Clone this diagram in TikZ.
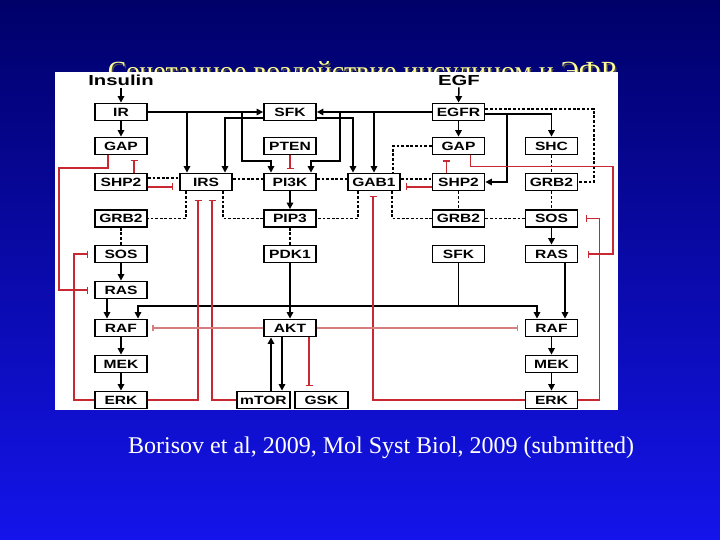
\documentclass[tikz,border=0pt]{standalone}
\usepackage{fontspec}
\setmainfont{Liberation Serif}
\newfontfamily\labfont[FakeStretch=1.3]{Liberation Sans}
\newfontfamily\hdfont[FakeStretch=1.4]{Liberation Sans}
\usetikzlibrary{arrows.meta}
\definecolor{inhred}{RGB}{200,40,50}
\definecolor{aktred}{RGB}{215,125,125}
\definecolor{titley}{RGB}{255,255,150}
\definecolor{bgtop}{RGB}{0,0,105}
\definecolor{bgbot}{RGB}{20,20,235}
\begin{document}
\begin{tikzpicture}[x=1pt,y=-1pt,
  box/.style={draw, line width=1.8pt, fill=white, minimum width=52pt, minimum height=17pt, inner sep=0pt, font=\labfont\bfseries\fontsize{12}{12}\selectfont},
  lbl/.style={font=\hdfont\bfseries\fontsize{14.5}{14.5}\selectfont, inner sep=0pt},
  act/.style={line width=1.5pt, -{Triangle[length=6.5pt,width=6.5pt]}},
  ln/.style={line width=1.5pt},
  inh/.style={draw=inhred, line width=1.5pt, -{Bar[width=7pt,line width=1.5pt]}},
  inhl/.style={draw=aktred, line width=1.1pt, -{Bar[width=6pt,line width=1.1pt]}},
  bind/.style={line width=1.6pt, dash pattern=on 2.8pt off 1.8pt}]
\useasboundingbox (0,0) rectangle (720,540);
\shade[top color=bgtop, bottom color=bgbot] (0,0) rectangle (720,540);
% title (partly hidden behind the panel)
\node[font=\fontsize{27.7}{27.7}\selectfont, text=black!70, anchor=base] at (363.5,82.5) {Сочетанное воздействие инсулином и ЭФР};
\node[font=\fontsize{27.7}{27.7}\selectfont, text=titley, anchor=base] (title) at (362,81) {Сочетанное воздействие инсулином и ЭФР};
% white panel
\fill[white] (55,72) rectangle (618,410);
% caption
\node[font=\fontsize{24}{24}\selectfont, text=white, anchor=base west, inner sep=0pt] (cap) at (128,453) {Borisov et al, 2009, Mol Syst Biol, 2009 (submitted)};

% labels
\node[lbl] (ins) at (121,80.5) {Insulin};
\node[lbl] (egf) at (459,80.5) {EGF};
% boxes
\node[box] (ir) at (121,112) {IR};
\node[box] (gapl) at (121,146) {GAP};
\node[box] (shp2l) at (121,182) {SHP2};
\node[box] (grb2l) at (121,218.5) {GRB2};
\node[box] (sosl) at (121,254) {SOS};
\node[box] (rasl) at (121,290) {RAS};
\node[box] (rafl) at (121,328) {RAF};
\node[box] (mekl) at (121,364) {MEK};
\node[box] (erkl) at (121,400) {ERK};
\node[box] (irs) at (206,182) {IRS};
\node[box] (sfkm) at (290,112) {SFK};
\node[box] (pten) at (290,146) {PTEN};
\node[box] (pi3k) at (290,182) {PI3K};
\node[box] (pip3) at (290,218.5) {PIP3};
\node[box] (pdk1) at (290,254) {PDK1};
\node[box] (akt) at (290,328) {AKT};
\node[box,minimum width=53pt] (mtor) at (263.5,400) {mTOR};
\node[box,minimum width=53pt] (gsk) at (321.5,400) {GSK};
\node[box] (gab1) at (374,182) {GAB1};
\node[box] (egfr) at (458.5,112) {EGFR};
\node[box] (gapr) at (458.5,146) {GAP};
\node[box] (shp2r) at (458.5,182) {SHP2};
\node[box] (grb2m) at (458.5,218.5) {GRB2};
\node[box] (sfkr) at (458.5,254) {SFK};
\node[box] (shc) at (551.5,146) {SHC};
\node[box] (grb2r) at (551.5,182) {GRB2};
\node[box] (sosr) at (551.5,218.5) {SOS};
\node[box] (rasr) at (551.5,254) {RAS};
\node[box] (rafr) at (551.5,328) {RAF};
\node[box] (mekr) at (551.5,364) {MEK};
\node[box] (erkr) at (551.5,400) {ERK};

% black activation
\draw[act, shorten <=1.5pt] (ins.south) -- (ir.north);
\draw[act, shorten <=1.5pt] (egf.south) -- (egfr.north);
\draw[act] (ir) -- (gapl);
\draw[act] (ir.east) -- (sfkm.west);
\draw[act] ([xshift=-19pt]irs.north |- ir.east) -- ([xshift=-19pt]irs.north);
\draw[act] ([xshift=-48pt]pi3k.north |- ir.east) -- ++(0,49) -| ([xshift=-19pt]pi3k.north);
\draw[act] ([xshift=50pt]pi3k.north |- egfr.west) -- ++(0,49) -| ([xshift=21pt]pi3k.north);
\draw[act] ([yshift=-6pt]sfkm.west) -| ([xshift=19pt]irs.north);
\draw[act] ([yshift=-6pt]sfkm.east) -| ([xshift=-21pt]gab1.north);
\draw[act] (egfr.west) -- (sfkm.east);
\draw[act] (gab1.north |- egfr.west) -- (gab1.north);
\draw[act] (pi3k) -- (pip3);
\draw[act] (pdk1) -- (akt);
\draw[act] ([xshift=7.5pt]mtor.north) -- ([xshift=7.5pt]mtor.north |- akt.south);
\draw[act] ([xshift=18.5pt]mtor.north |- akt.south) -- ([xshift=18.5pt]mtor.north);
\draw[act] (egfr) -- (gapr);
\draw[act] ([yshift=-2pt]egfr.east) -| (shc.north);
\draw[act] ([xshift=48.5pt,yshift=-2pt]egfr.south |- egfr.east) |- (shp2r.east);
\draw[act] (sosl) -- (rasl);
\draw[act] (sosr) -- (rasr);
\draw[act] ([xshift=-14pt]rasl.south) -- ([xshift=-14pt]rafl.north);
\coordinate (bus) at (458.5,306);
\draw[ln] (sfkr.south) -- (bus);
\draw[act] (bus) -| ([xshift=17pt]rafl.north);
\draw[act] (bus) -| ([xshift=-14.5pt]rafr.north);
\draw[act] ([xshift=13.5pt]rasr.south) -- ([xshift=13.5pt]rafr.north);
\draw[act] (rafl) -- (mekl);
\draw[act] (mekl) -- (erkl);
\draw[act] (rafr) -- (mekr);
\draw[act] (mekr) -- (erkr);

% binding (dashed)
\draw[bind] ([yshift=4pt]shp2l.east) -- ([yshift=4pt]irs.west);
\draw[bind] ([yshift=3pt]irs.east) -- ([yshift=3pt]pi3k.west);
\draw[bind] ([yshift=3pt]pi3k.east) -- ([yshift=3pt]gab1.west);
\draw[bind] ([yshift=3pt]gab1.east) -- ([yshift=3pt]shp2r.west);
\draw[bind] ([xshift=-20pt]irs.south) |- (grb2l.east);
\draw[bind] ([xshift=17pt]irs.south) |- (pip3.west);
\draw[bind] ([xshift=-16pt]gab1.south) |- (pip3.east);
\draw[bind] ([xshift=18pt]gab1.south) |- (grb2m.west);
\draw[bind] (gapr.west) -| ([xshift=19pt]gab1.north);
\draw[bind] (grb2l) -- (sosl);
\draw[bind] (pip3) -- (pdk1);
\draw[bind] (shp2r) -- (grb2m);
\draw[bind] (grb2m) -- (sosr);
\draw[bind] (shc) -- (grb2r);
\draw[bind] (grb2r) -- (sosr);
\draw[bind] ([yshift=3pt]egfr.east) -- ++(108.5,0) |- (grb2r.east);

% inhibition (red)
\draw[inh, shorten >=3.5pt] (pten) -- (pi3k);
\draw[inh, shorten >=4.5pt] ([xshift=13pt]shp2l.north) -- ([xshift=13pt]gapl.south);
\draw[inh, shorten >=5pt] ([xshift=-12pt]shp2r.north) -- ([xshift=-12pt]gapr.south);
\draw[inh, shorten >=6pt] ([yshift=-5pt]shp2l.east) -- ([yshift=-5pt]irs.west);
\draw[inh, shorten >=5pt] ([yshift=-5pt]shp2r.west) -- ([yshift=-5pt]gab1.east);
\draw[inh, shorten >=6pt] ([xshift=-13pt]gapl.south) -- ++(0,12.5) -| (59,290) -- (rasl.west);
\draw[inh, shorten >=6pt] (erkl.west) -- ++(-20,0) |- (sosl.west);
\draw[inh, shorten >=8.5pt] (erkl.east) -| ([xshift=-8pt]irs.south);
\draw[inh, shorten >=8.5pt] (mtor.west) -| ([xshift=6pt]irs.south);
\draw[inh, shorten >=4.5pt] (erkr.west) -| ([xshift=-1pt]gab1.south);
\draw[inh, shorten >=7.5pt] (erkr.east) -- ++(21,0) |- (sosr.east);
\draw[inh, shorten >=9.5pt] ([xshift=12pt]gapr.south) -- ++(0,11) -| (613,254) -- (rasr.east);
\draw[inhl, shorten >=4.5pt] (akt.west) -- (rafl.east);
\draw[inhl, shorten >=6.5pt] (akt.east) -- (rafr.west);
\draw[inh, shorten >=4.5pt] ([xshift=-12.5pt]gsk.north |- akt.south) -- ([xshift=-12.5pt]gsk.north);
\end{tikzpicture}
\end{document}
